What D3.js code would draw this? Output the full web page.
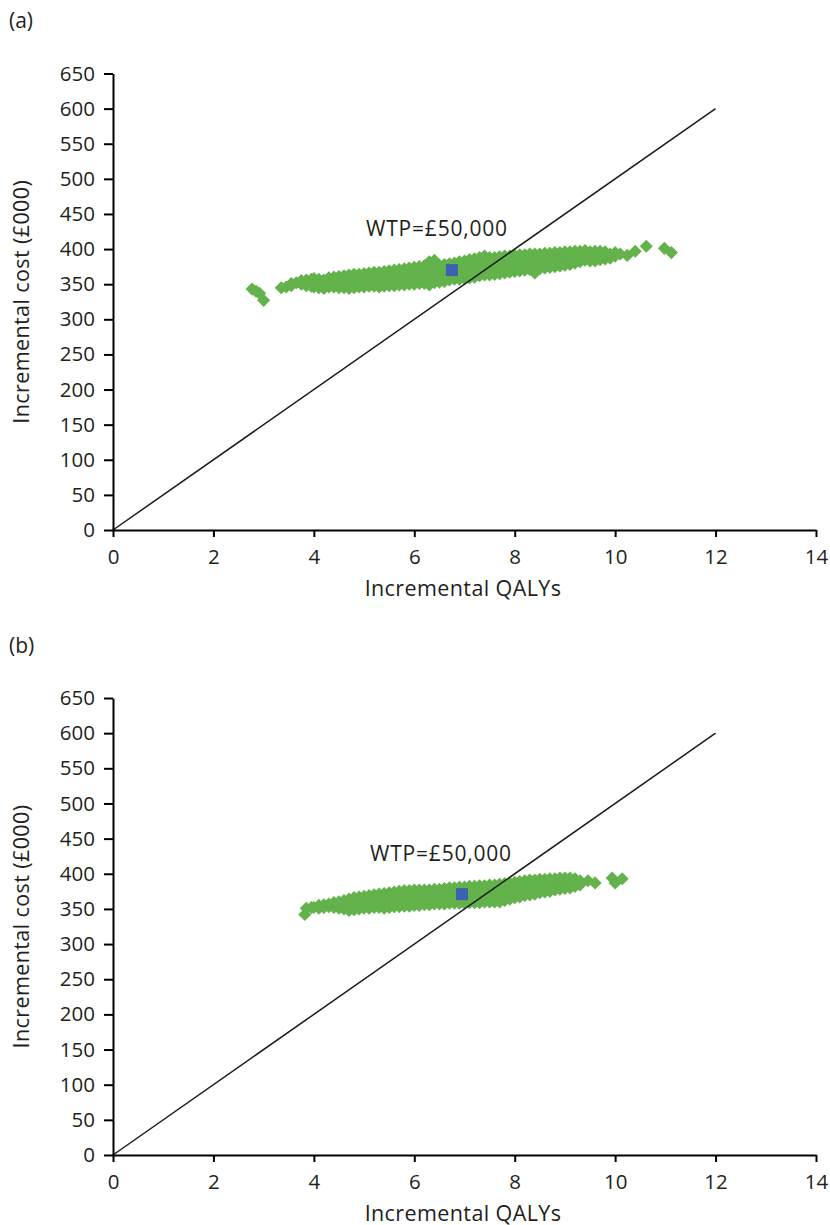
<!DOCTYPE html>
<html>
<head>
<meta charset="utf-8">
<script src="https://cdn.jsdelivr.net/npm/d3@7"></script>
<style>
  body { margin: 0; background: #fff; }
  svg { display: block; font-family: 'Open Sans', sans-serif; }
  text { fill: #231f20; }
</style>
</head>
<body>
<svg width="830" height="1225"></svg>
<script>
// axis ticks
const xTicks = [0, 2, 4, 6, 8, 10, 12, 14];
const yTicks = d3.range(0, 651, 50);

// willingness-to-pay line (£50,000 per QALY, cost in £000)
const wtpLine = [[0, 0], [12, 600]];

// mean points
const meanA = [6.75, 370];
const meanB = [6.95, 371];

// bootstrap clouds: [QALY, [costs...]]
const cloudA = [
  [2.77, [343]], [2.85, [340]], [2.92, [337]], [3.0, [327]],
  [3.35, [345]], [3.45, [346]], [3.55, [348, 351]], [3.65, [352]],
  [3.75, [350, 355]], [3.85, [348, 352, 356]], [3.95, [347, 352, 357]],
  [4.0, [346, 352, 358]], [4.1, [345, 351, 357]], [4.2, [344, 350, 356]],
  [4.3, [346, 352, 359]], [4.4, [346, 353, 360]], [4.5, [345, 351, 356, 361]],
  [4.6, [345, 351, 357, 362]], [4.7, [344, 351, 357, 363]], [4.8, [345, 351, 358, 364]],
  [4.9, [346, 352, 358, 364]], [5.0, [346, 352, 359, 365]], [5.1, [347, 353, 360, 366]],
  [5.2, [347, 354, 361, 367]], [5.3, [346, 353, 360, 367]], [5.4, [347, 354, 361, 368]],
  [5.5, [348, 355, 362, 369]], [5.6, [348, 355, 363, 370]], [5.7, [349, 356, 364, 371]],
  [5.8, [349, 357, 365, 372]], [5.9, [350, 358, 366, 373]], [6.0, [350, 358, 366, 374]],
  [6.1, [351, 359, 367, 375]], [6.2, [351, 359, 368, 376]], [6.3, [349, 357, 365, 373, 382]],
  [6.4, [352, 360, 368, 376, 384]], [6.5, [353, 361, 369, 377]], [6.6, [354, 362, 370, 378]],
  [6.7, [356, 364, 372, 379]], [6.8, [357, 365, 373, 380]], [6.9, [357, 365, 374, 382]],
  [7.0, [358, 366, 375, 383]], [7.1, [359, 368, 376, 385]], [7.2, [360, 369, 378, 386]],
  [7.3, [362, 371, 380, 388]], [7.4, [363, 372, 381, 390]], [7.5, [363, 372, 380, 388]],
  [7.6, [364, 372, 380, 388]], [7.7, [365, 373, 381, 389]], [7.8, [366, 374, 382, 390]],
  [7.9, [367, 375, 383, 390]], [8.0, [368, 376, 384, 391]], [8.1, [369, 377, 385, 392]],
  [8.2, [370, 378, 385, 392]], [8.3, [371, 379, 386, 393]], [8.4, [366, 372, 379, 386, 393]],
  [8.5, [372, 379, 386, 393]], [8.6, [373, 380, 387, 394]], [8.7, [374, 381, 388, 394]],
  [8.8, [375, 382, 389, 395]], [8.9, [376, 383, 389, 395]], [9.0, [377, 384, 390, 396]],
  [9.1, [378, 384, 390, 396]], [9.2, [380, 386, 392, 397]], [9.3, [382, 387, 392, 397]],
  [9.4, [384, 389, 394, 398]], [9.5, [383, 388, 392, 396]], [9.6, [383, 388, 393, 397]],
  [9.7, [385, 390, 394, 397]], [9.8, [386, 391, 396]], [9.9, [387, 393]],
  [10.0, [390, 395]], [10.1, [393]], [10.24, [391]], [10.4, [397]],
  [10.62, [404]], [10.98, [401]], [11.12, [395]]
];

const cloudB = [
  [3.82, [342]], [3.85, [351]], [3.95, [352]], [4.0, [352]],
  [4.1, [351, 355]], [4.2, [352, 356]], [4.3, [353, 357]], [4.4, [352, 356, 359]],
  [4.5, [351, 355, 360]], [4.6, [350, 354, 358, 362]], [4.7, [348, 353, 358, 364]],
  [4.8, [349, 355, 360, 366]], [4.9, [350, 356, 361, 367]], [5.0, [351, 357, 362, 368]],
  [5.1, [351, 357, 363, 369]], [5.2, [352, 358, 364, 370]], [5.3, [352, 358, 365, 371]],
  [5.4, [351, 358, 365, 372]], [5.5, [352, 359, 366, 373]], [5.6, [353, 360, 367, 374]],
  [5.7, [353, 360, 368, 375]], [5.8, [354, 361, 368, 376]], [5.9, [354, 361, 369, 376]],
  [6.0, [355, 362, 370, 377]], [6.1, [355, 362, 370, 377]], [6.2, [356, 363, 370, 377]],
  [6.3, [356, 363, 370, 377]], [6.4, [357, 364, 371, 378]], [6.5, [357, 364, 371, 378]],
  [6.6, [357, 364, 372, 379]], [6.7, [358, 365, 373, 380]], [6.8, [358, 365, 373, 380]],
  [6.9, [358, 366, 374, 381]], [7.0, [358, 366, 374, 381]], [7.1, [359, 367, 375, 382]],
  [7.2, [359, 367, 375, 382]], [7.3, [359, 367, 375, 383]], [7.4, [360, 368, 376, 383]],
  [7.5, [360, 368, 376, 384]], [7.6, [360, 368, 376, 384]], [7.7, [360, 368, 377, 385]],
  [7.8, [362, 370, 378, 386]], [7.9, [364, 372, 380, 387]], [8.0, [366, 373, 381, 388]],
  [8.1, [367, 374, 382, 389]], [8.2, [369, 376, 383, 390]], [8.3, [370, 377, 384, 391]],
  [8.4, [371, 378, 385, 391]], [8.5, [373, 379, 386, 392]], [8.6, [374, 380, 386, 392]],
  [8.7, [375, 381, 387, 393]], [8.8, [377, 382, 388, 393]], [8.9, [378, 383, 389, 394]],
  [9.0, [379, 384, 389, 394]], [9.1, [380, 385, 390, 394]], [9.2, [382, 387, 393]],
  [9.3, [384, 390]], [9.46, [390]], [9.6, [387]], [9.94, [394]],
  [10.0, [387]], [10.14, [393]]
];

const svg = d3.select('svg');
const green = '#63b24b';
const blue = '#3b62ae';

const panels = [
  { label: '(a)', cloud: cloudA, mean: meanA, top: 73.5, bottom: 530, labelY: 28, wtpPos: [437, 236] },
  { label: '(b)', cloud: cloudB, mean: meanB, top: 698, bottom: 1155, labelY: 653, wtpPos: [441, 861] }
];

panels.forEach(p => {
  const x = d3.scaleLinear().domain([0, 14]).range([113, 816]);
  const y = d3.scaleLinear().domain([0, 650]).range([p.bottom, p.top]);
  const g = svg.append('g');

  g.append('text')
    .attr('x', 9)
    .attr('y', p.labelY)
    .attr('font-size', 21)
    .text(p.label);

  // points
  const pts = [];
  p.cloud.forEach(([q, costs]) => costs.forEach(c => pts.push([q, c])));
  const diamond = d3.symbol().type(d3.symbolSquare).size(86);
  g.append('g').selectAll('path').data(pts)
    .enter().append('path')
    .attr('d', diamond)
    .attr('transform', d => `translate(${x(d[0])},${y(d[1])}) rotate(45)`)
    .attr('fill', green);

  // WTP line
  g.append('path')
    .datum(wtpLine)
    .attr('d', d3.line().x(d => x(d[0])).y(d => y(d[1])))
    .attr('fill', 'none')
    .attr('stroke', '#1a1a1a')
    .attr('stroke-width', 1.5);

  // mean
  g.append('rect')
    .attr('x', x(p.mean[0]) - 6)
    .attr('y', y(p.mean[1]) - 6)
    .attr('width', 12)
    .attr('height', 12)
    .attr('fill', blue);

  g.append('text')
    .attr('x', p.wtpPos[0])
    .attr('y', p.wtpPos[1])
    .attr('text-anchor', 'middle')
    .attr('font-size', 21)
    .attr('letter-spacing', 0.8)
    .text('WTP=£50,000');

  // axes
  const yAxis = g.append('g')
    .attr('transform', 'translate(113,0)')
    .call(d3.axisLeft(y).tickValues(yTicks).tickSize(9).tickSizeOuter(0).tickPadding(9));
  const xAxis = g.append('g')
    .attr('transform', `translate(0,${p.bottom})`)
    .call(d3.axisBottom(x).tickValues(xTicks).tickSize(7).tickSizeOuter(0).tickPadding(12));
  [yAxis, xAxis].forEach(a => {
    a.selectAll('path, line').attr('stroke', '#000').attr('stroke-width', 2);
    a.selectAll('text').attr('font-size', 20.5).attr('fill', '#231f20')
      .style('font-family', "'Open Sans', sans-serif");
  });

  g.append('text')
    .attr('x', 463)
    .attr('y', p.bottom + 66)
    .attr('text-anchor', 'middle')
    .attr('font-size', 21.5)
    .attr('letter-spacing', 0.4)
    .text('Incremental QALYs');

  g.append('text')
    .attr('transform', `translate(29,${(p.top + p.bottom) / 2}) rotate(-90)`)
    .attr('text-anchor', 'middle')
    .attr('font-size', 21.5)
    .attr('letter-spacing', 0.4)
    .text('Incremental cost (£000)');
});
</script>
</body>
</html>
